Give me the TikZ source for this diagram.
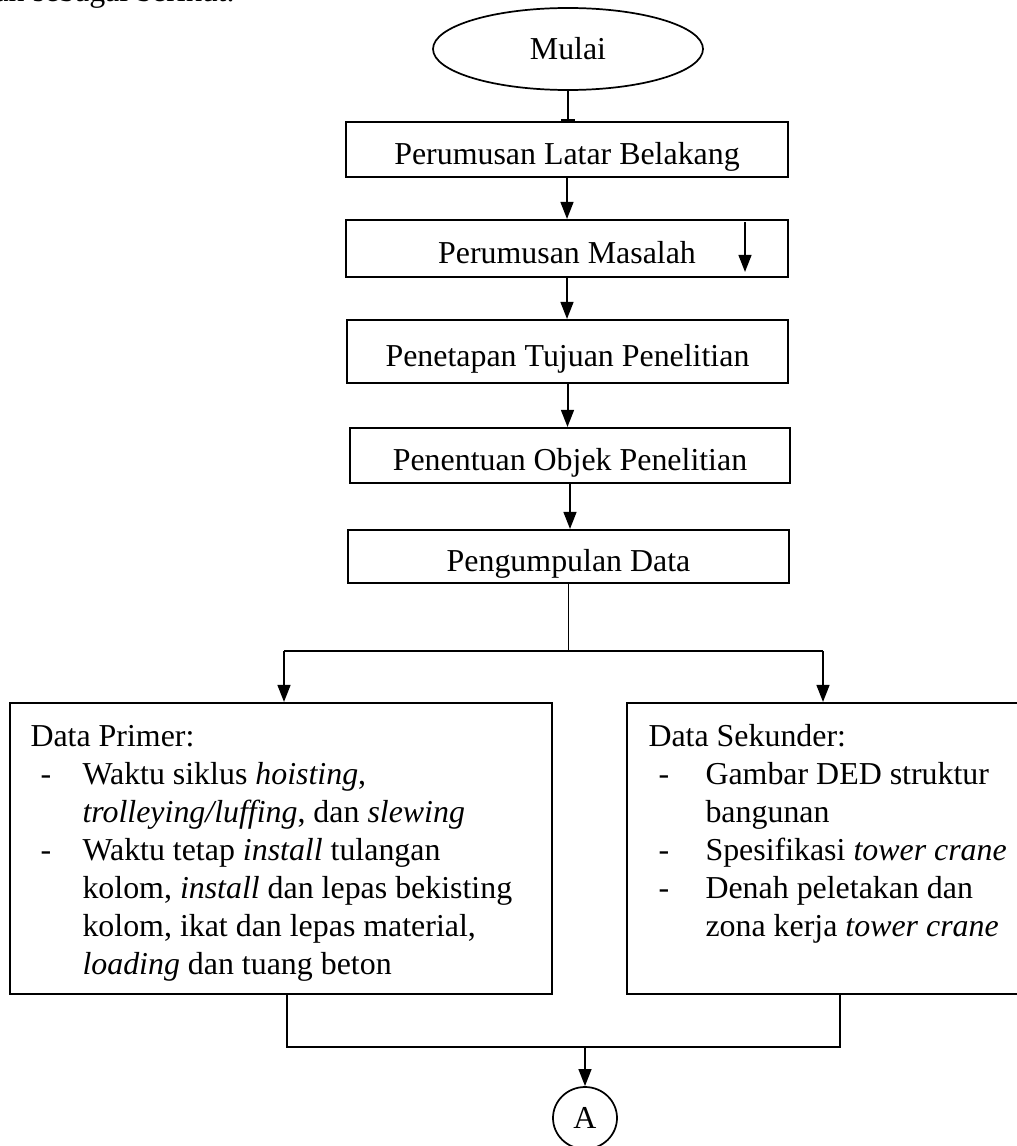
\documentclass[tikz,border=0pt]{standalone}
\usepackage{fontspec}
\setmainfont{Liberation Serif}
\usetikzlibrary{shapes.geometric,arrows.meta}
\newlength\pxu
\setlength\pxu{0.3762pt}
\begin{document}
\begin{tikzpicture}[x=0.3762pt,y=-0.3762pt,
  font=\fontsize{12pt}{14pt}\selectfont,
  box/.style={draw, line width=0.75pt, inner sep=0pt, text height=11.2pt, text depth=0pt},
  arr/.style={line width=0.75pt, -{Triangle[length=6.4pt,width=4.8pt]}},
  thinline/.style={line width=0.45pt},
  thickline/.style={line width=0.75pt},
  txt/.style={anchor=base west, inner sep=0pt},
  oval/.style={ellipse, draw, line width=0.65pt, inner sep=0pt}]
\useasboundingbox (0,0) rectangle (1017,1146);
% cut-off caption line at the very top
\node[txt] (intro) at (-6,2) {an sebagai berikut.};
% start
\node[oval, minimum width=270\pxu, minimum height=82\pxu] (mulai) at (568,49) {Mulai};
% process boxes
\node[box, minimum width=442\pxu, minimum height=55\pxu] (b1) at (567,149.5) {Perumusan Latar Belakang};
\node[box, minimum width=442\pxu, minimum height=57\pxu] (b2) at (567,248.5) {Perumusan Masalah};
\node[box, minimum width=441\pxu, minimum height=63\pxu] (b3) at (567.5,351.5) {Penetapan Tujuan Penelitian};
\node[box, minimum width=440\pxu, minimum height=55\pxu] (b4) at (570,455.5) {Penentuan Objek Penelitian};
\node[box, minimum width=441\pxu, minimum height=53\pxu] (b5) at (568.5,556.5) {Pengumpulan Data};
% data boxes
\node[box, minimum width=542\pxu, minimum height=291\pxu] (prim) at (281,848.5) {};
\node[box, minimum width=403\pxu, minimum height=291\pxu] (sek) at (828.5,848.5) {};
% primary data text
\node[txt] (p1) at (30,746) {Data Primer:};
\node[txt] (p2) at (40,784) {\makebox[42\pxu][l]{-}Waktu siklus \textit{hoisting},};
\node[txt] (p3) at (82,822) {\textit{trolleying/luffing}, dan \textit{slewing}};
\node[txt] (p4) at (40,860) {\makebox[42\pxu][l]{-}Waktu tetap \textit{install} tulangan};
\node[txt] (p5) at (82,898) {kolom, \textit{install} dan lepas bekisting};
\node[txt] (p6) at (82,936) {kolom, ikat dan lepas material,};
\node[txt] (p7) at (82,974) {\textit{loading} dan tuang beton};
% secondary data text
\node[txt] (s1) at (648,746) {Data Sekunder:};
\node[txt] (s2) at (658,784) {\makebox[47\pxu][l]{-}Gambar DED struktur};
\node[txt] (s3) at (705,822) {bangunan};
\node[txt] (s4) at (658,860) {\makebox[47\pxu][l]{-}Spesifikasi \textit{tower crane}};
\node[txt] (s5) at (658,898) {\makebox[47\pxu][l]{-}Denah peletakan dan};
\node[txt] (s6) at (705,936) {zona kerja \textit{tower crane}};
% connector A
\node[oval, minimum width=64\pxu, minimum height=62\pxu] (conA) at (585,1118) {A};
% connectors
\draw[thickline, -{Bar[width=5pt]}] (mulai.south) -- (mulai.south |- b1.north);
\draw[arr] (b1.south) -- (b1.south |- b2.north);
\draw[arr] (b2.south) -- (b2.south |- b3.north);
\draw[arr] (b3.south) -- (b3.south |- b4.north);
\draw[arr] (b4.south) -- (b4.south |- b5.north);
% stray arrow inside the second box
\coordinate (st0) at (745,222);
\coordinate (st1) at (745,272);
\draw[arr] (st0) -- (st1);
% branch to data boxes
\coordinate (jl) at (284,651);
\coordinate (jr) at (823,651);
\draw[thinline] (b5.south) -- (b5.south |- jl);
\draw[thickline] (jl) -- (jr);
\draw[arr] (jl) -- (jl |- prim.north);
\draw[arr] (jr) -- (jr |- sek.north);
% merge to connector A
\coordinate (kl) at (287,1047);
\coordinate (kr) at (840,1047);
\coordinate (km) at (585,1047);
\draw[thinline] (prim.south -| kl) -- (kl) -- (kr) -- (sek.south -| kr);
\draw[arr] (km) -- (conA.north);
\end{tikzpicture}
\end{document}
